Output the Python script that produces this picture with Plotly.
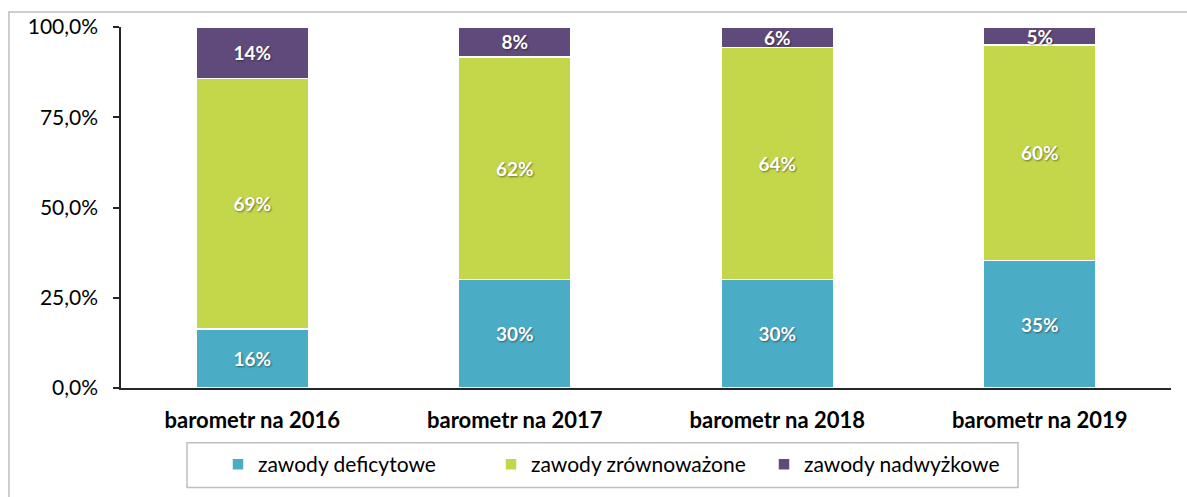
import plotly.graph_objects as go

categories = ["barometr na 2016", "barometr na 2017", "barometr na 2018", "barometr na 2019"]
deficytowe = [0.163, 0.300, 0.301, 0.353]
zrownowazone = [0.694, 0.617, 0.642, 0.597]
nadwyzkowe = [0.143, 0.083, 0.057, 0.050]
series_names = ["zawody deficytowe", "zawody zrównoważone", "zawody nadwyżkowe"]
colors = ["#4BACC6", "#C4D74B", "#604A7B"]
y_ticks = [0, 0.25, 0.5, 0.75, 1.0]

FONT = "Lato"

fig = go.Figure()
for name, vals, col in zip(series_names, [deficytowe, zrownowazone, nadwyzkowe], colors):
    fig.add_trace(go.Bar(
        x=categories, y=vals, name=name,
        marker=dict(color=col, line=dict(color="white", width=1.5)),
        texttemplate="%{y:.0%}", textposition="inside", insidetextanchor="middle",
        textfont=dict(family=FONT, size=19, color="white", weight="bold",
                      shadow="1px 1px 2px rgba(0,0,0,0.45)"),
        constraintext="none",
        hoverinfo="skip",
    ))

L, R, T, B = 121, 16, 27, 107
W, H = 1187, 497
pw, ph = W - L - R, H - T - B

def px_x(p):
    return (p - L) / pw

def px_y(p):
    return (H - B - p) / ph

fig.update_layout(
    width=W, height=H,
    margin=dict(l=L, r=R, t=T, b=B, pad=0),
    barmode="stack", bargap=0.573,
    separators=",.",
    paper_bgcolor="white", plot_bgcolor="rgba(0,0,0,0)",
    font=dict(family=FONT, size=20, color="#000000"),
    uniformtext=dict(minsize=19, mode="show"),
    showlegend=True,
    legend=dict(
        orientation="h", x=px_x(218), xanchor="left", y=px_y(467), yanchor="middle",
        borderwidth=0, bgcolor="rgba(0,0,0,0)",
        font=dict(family=FONT, size=21, color="#000000"),
        entrywidth=228, entrywidthmode="pixels",
        traceorder="normal", itemclick=False, itemdoubleclick=False,
    ),
    xaxis=dict(
        showline=True, linecolor="#262626", linewidth=1.5,
        ticks="", showgrid=False, ticklabelstandoff=12,
        tickfont=dict(family=FONT, size=22, color="#000000", weight="bold"),
    ),
    yaxis=dict(
        range=[0, 1], tickvals=y_ticks, tickformat=".1%",
        showline=True, linecolor="#262626", linewidth=1.5,
        ticks="outside", ticklen=6, tickcolor="#262626", tickwidth=1.5,
        showgrid=False, zeroline=False, ticklabelstandoff=11,
        tickfont=dict(family=FONT, size=21, color="#000000"),
    ),
    shapes=[
        dict(type="rect", xref="paper", yref="paper",
             x0=px_x(9), x1=px_x(1195), y0=px_y(505), y1=px_y(12),
             line=dict(color="#BFBFBF", width=1.5), layer="below"),
        dict(type="rect", xref="paper", yref="paper",
             x0=px_x(187), x1=px_x(1018), y0=px_y(490), y1=px_y(445),
             line=dict(color="#BFBFBF", width=1.5), fillcolor="white", layer="below"),
    ],
)

fig.write_html("out.html", config={"displayModeBar": False},
               post_script="document.body.style.margin='0';document.body.style.overflow='hidden';")
